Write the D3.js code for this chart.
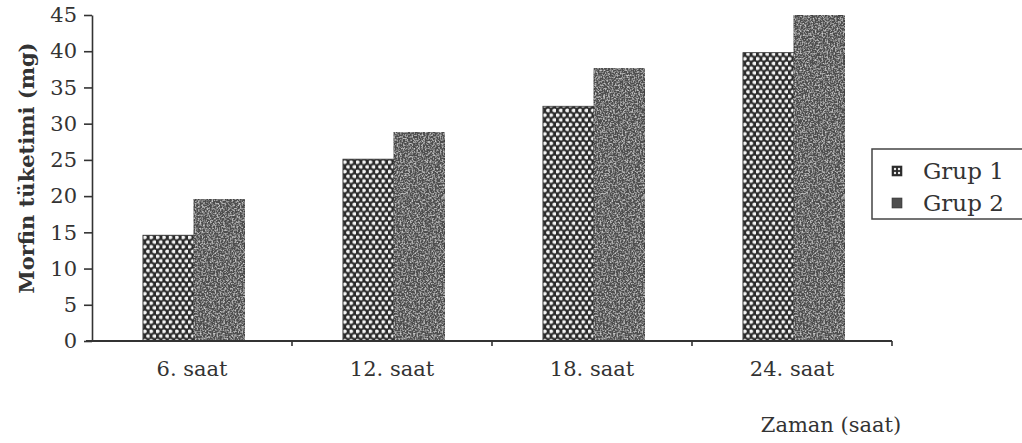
<!DOCTYPE html>
<html>
<head>
<meta charset="utf-8">
<script src="https://cdn.jsdelivr.net/npm/d3@7"></script>
<style>
  body { margin: 0; background: #fff; }
  svg { display: block; }
  text { font-family: "DejaVu Serif", serif; fill: #333; }
</style>
</head>
<body>
<div id="chart"></div>
<script>
var categories = ['6. saat', '12. saat', '18. saat', '24. saat'];
var groups = ['Grup 1', 'Grup 2'];
var grup1 = [14.6, 25.1, 32.4, 39.8];
var grup2 = [19.6, 28.8, 37.6, 45];
var yTicks = [0, 5, 10, 15, 20, 25, 30, 35, 40, 45];

var W = 1022, H = 443;
var margin = { top: 15, left: 92, right: 130, bottom: 102 };

var svg = d3.select('#chart').append('svg')
    .attr('width', W)
    .attr('height', H);

// textures: dotted for grup 1, grainy grey for grup 2
var defs = svg.append('defs');
var pat = defs.append('pattern')
    .attr('id', 'dots')
    .attr('patternUnits', 'userSpaceOnUse')
    .attr('width', 6.4)
    .attr('height', 9.4);
pat.append('rect').attr('width', 6.4).attr('height', 9.4).attr('fill', '#2b2b2b');
pat.append('circle').attr('cx', 1.6).attr('cy', 2.35).attr('r', 1.95).attr('fill', '#f4f4f4');
pat.append('circle').attr('cx', 4.8).attr('cy', 7.05).attr('r', 1.95).attr('fill', '#f4f4f4');

var grain = defs.append('filter')
    .attr('id', 'grain')
    .attr('x', 0).attr('y', 0).attr('width', 1).attr('height', 1);
grain.append('feTurbulence')
    .attr('type', 'fractalNoise')
    .attr('baseFrequency', 0.6)
    .attr('numOctaves', 2)
    .attr('seed', 4)
    .attr('result', 'n');
grain.append('feColorMatrix')
    .attr('in', 'n')
    .attr('type', 'matrix')
    .attr('values', '0 0 0 0 0.62  0 0 0 0 0.62  0 0 0 0 0.62  2.6 0 0 0 -1.15')
    .attr('result', 's');
grain.append('feComposite')
    .attr('in', 's').attr('in2', 'SourceGraphic')
    .attr('operator', 'in').attr('result', 's2');
var merge = grain.append('feMerge');
merge.append('feMergeNode').attr('in', 'SourceGraphic');
merge.append('feMergeNode').attr('in', 's2');

var x0 = d3.scaleBand()
    .domain(categories)
    .range([margin.left, W - margin.right])
    .padding(0);

var x1 = d3.scaleBand()
    .domain(groups)
    .range([0, x0.bandwidth()])
    .paddingInner(0)
    .paddingOuter(0.96)
    .align(0.52);

var y = d3.scaleLinear()
    .domain([0, 45])
    .range([H - margin.bottom, margin.top]);

var fills = { 'Grup 1': 'url(#dots)', 'Grup 2': '#4e4e4e' };

var rows = categories.map(function(c, i) {
    return { cat: c, vals: [{ g: 'Grup 1', v: grup1[i] }, { g: 'Grup 2', v: grup2[i] }] };
});

var bars = svg.selectAll('g.cat')
    .data(rows)
    .enter().append('g')
    .attr('class', 'cat')
    .attr('transform', function(d) { return 'translate(' + x0(d.cat) + ',0)'; });

bars.selectAll('rect')
    .data(function(d) { return d.vals; })
    .enter().append('rect')
    .attr('x', function(d) { return x1(d.g); })
    .attr('y', function(d) { return y(d.v); })
    .attr('width', x1.bandwidth())
    .attr('height', function(d) { return y(0) - y(d.v); })
    .attr('fill', function(d) { return fills[d.g]; })
    .attr('filter', function(d) { return d.g === 'Grup 2' ? 'url(#grain)' : null; })
    .attr('stroke', '#333')
    .attr('stroke-width', 0.8);

// y axis
var yAxis = svg.append('g')
    .attr('transform', 'translate(' + margin.left + ',0)')
    .call(d3.axisLeft(y).tickValues(yTicks).tickSize(8).tickSizeOuter(0).tickPadding(7));
yAxis.select('.domain').attr('stroke', '#333').attr('stroke-width', 1.6);
yAxis.selectAll('.tick line').attr('stroke', '#333').attr('stroke-width', 1.6);
yAxis.selectAll('.tick text')
    .style('font-family', '"DejaVu Serif", serif')
    .style('font-size', '21px')
    .attr('fill', '#333');

// x axis: labels in the middle, ticks between categories
var xAxis = svg.append('g')
    .attr('transform', 'translate(0,' + y(0) + ')')
    .call(d3.axisBottom(x0).tickSize(0).tickPadding(20));
xAxis.select('.domain').remove();
xAxis.selectAll('.tick text')
    .style('font-family', '"DejaVu Serif", serif')
    .style('font-size', '21px')
    .attr('fill', '#333');

svg.append('line')
    .attr('x1', margin.left - 6).attr('x2', W - margin.right)
    .attr('y1', y(0)).attr('y2', y(0))
    .attr('stroke', '#333').attr('stroke-width', 1.8);

svg.selectAll('line.sep')
    .data(categories)
    .enter().append('line')
    .attr('class', 'sep')
    .attr('x1', function(d) { return x0(d) + x0.step(); })
    .attr('x2', function(d) { return x0(d) + x0.step(); })
    .attr('y1', y(0)).attr('y2', y(0) + 5)
    .attr('stroke', '#333').attr('stroke-width', 1.6);

// axis titles
svg.append('text')
    .attr('transform', 'translate(34,' + ((y(0) + y(45)) / 2 - 10) + ') rotate(-90)')
    .attr('text-anchor', 'middle')
    .style('font-size', '23px')
    .style('font-weight', 'bold')
    .style('font-size', '21px')
    .text('Morfin tüketimi (mg)');

svg.append('text')
    .attr('x', 831)
    .attr('y', 432)
    .attr('text-anchor', 'middle')
    .style('font-size', '21px')
    .text('Zaman (saat)');

// legend
var lg = svg.append('g').attr('transform', 'translate(872,149)');
lg.append('rect')
    .attr('width', 170).attr('height', 70)
    .attr('fill', 'none')
    .attr('stroke', '#444').attr('stroke-width', 1.5);
var items = lg.selectAll('g.item')
    .data(groups)
    .enter().append('g')
    .attr('class', 'item')
    .attr('transform', function(d, i) { return 'translate(20,' + (22 + i * 32) + ')'; });
items.append('rect')
    .attr('y', -5)
    .attr('width', 10).attr('height', 10)
    .attr('fill', function(d) { return d === 'Grup 1' ? '#2b2b2b' : '#4e4e4e'; })
    .attr('stroke', '#333').attr('stroke-width', 0.6);
items.filter(function(d) { return d === 'Grup 1'; })
    .selectAll('circle.m')
    .data([[3, -2], [7, -2], [3, 2], [7, 2]])
    .enter().append('circle')
    .attr('cx', function(d) { return d[0]; })
    .attr('cy', function(d) { return d[1]; })
    .attr('r', 1.2)
    .attr('fill', '#eee');
items.append('text')
    .attr('x', 31)
    .attr('dy', '0.35em')
    .style('font-size', '23px')
    .text(function(d) { return d; });
</script>
</body>
</html>
